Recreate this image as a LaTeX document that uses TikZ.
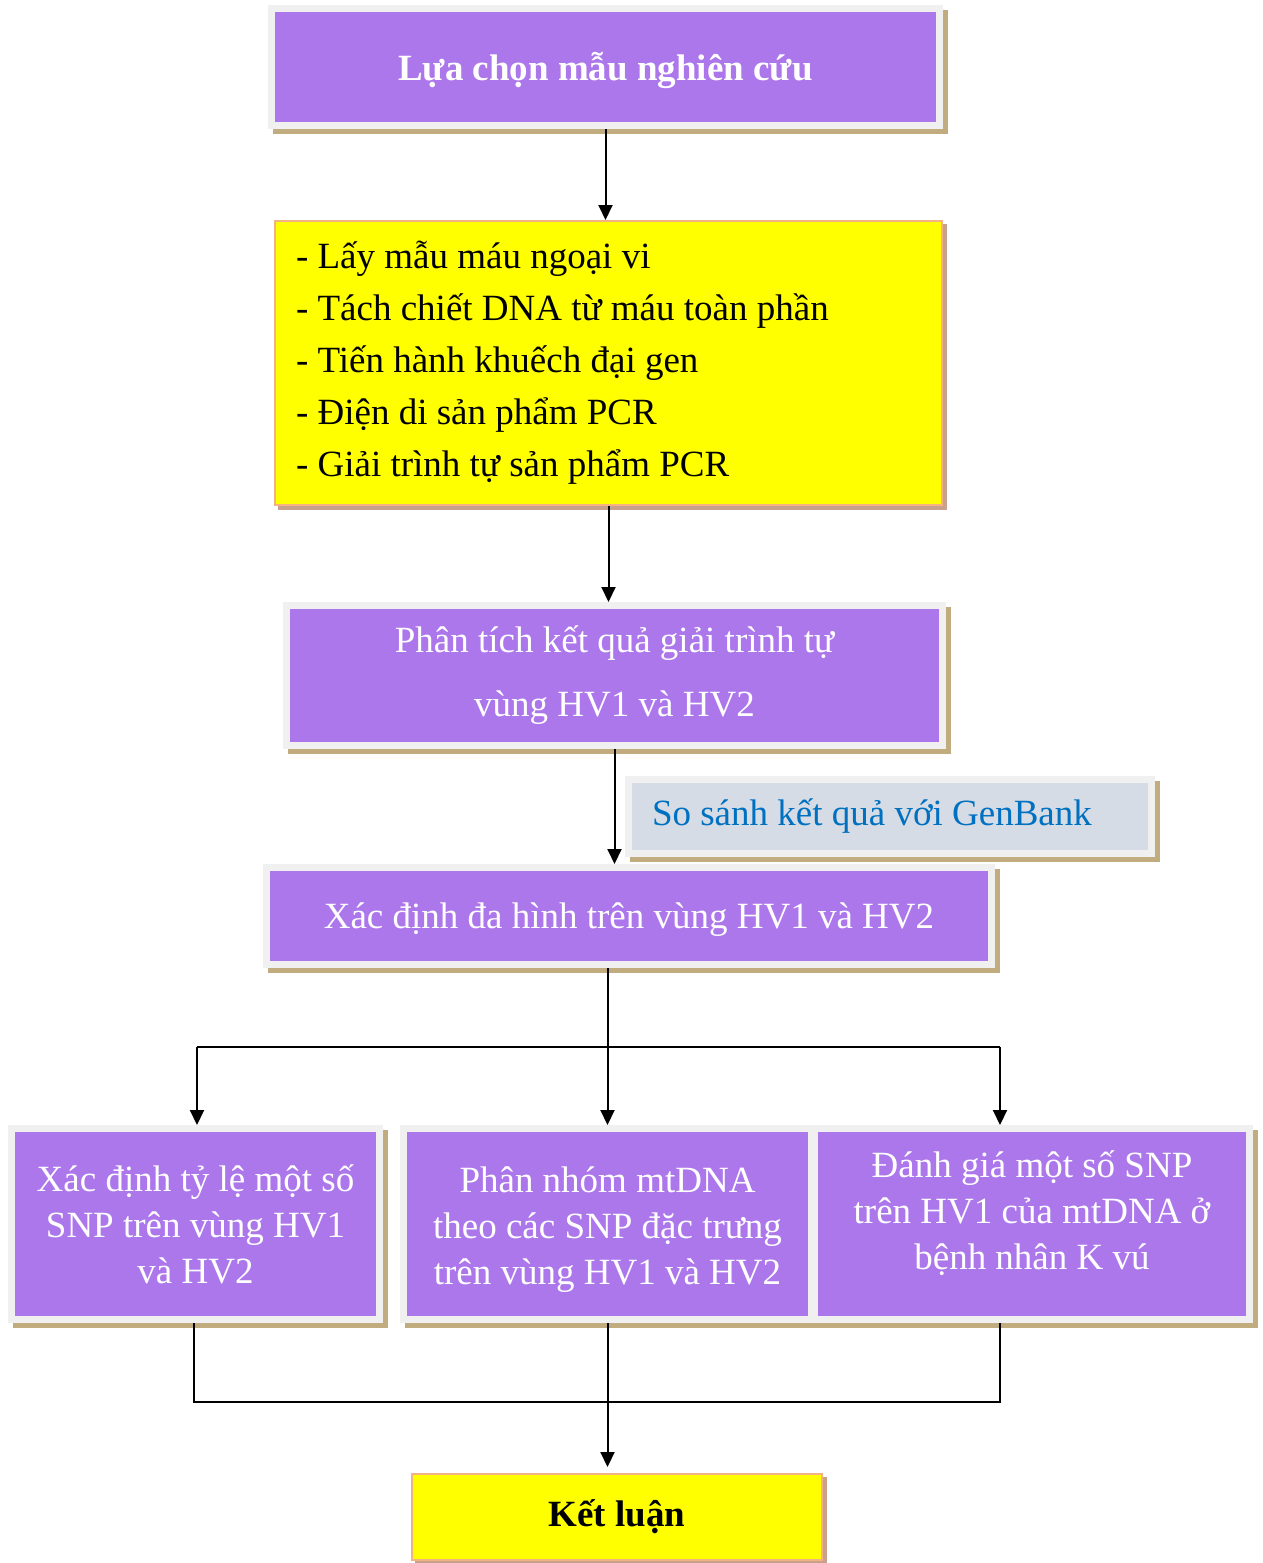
\documentclass[tikz,border=0pt]{standalone}
\usepackage{fontspec}
\setmainfont{Liberation Serif}
\usetikzlibrary{arrows.meta,shadows}
\definecolor{tim}{HTML}{AD77EC}
\definecolor{khung}{HTML}{F0F0F0}
\definecolor{bong}{HTML}{C0AC7E}
\definecolor{vang}{HTML}{FFFF00}
\definecolor{vien}{HTML}{F4B183}
\definecolor{bongvang}{HTML}{C9A08C}
\definecolor{xam}{HTML}{D6DCE5}
\definecolor{xanh}{HTML}{0070C0}
\begin{document}
\begin{tikzpicture}[x=1pt,y=-1pt,
  hop/.style={rectangle, fill=tim, draw=khung, line width=7pt, text=white, inner sep=0pt, align=flush center,
    font=\fontsize{37}{46}\selectfont,
    drop shadow={shadow xshift=5pt, shadow yshift=-5pt, fill=bong, draw=bong, line width=7pt, opacity=1}},
  buoc/.style={rectangle, fill=vang, draw=vien, line width=2pt, text=black, inner sep=0pt,
    drop shadow={shadow xshift=4pt, shadow yshift=-4pt, fill=bongvang, draw=bongvang, line width=2pt, opacity=1}},
  noi/.style={line width=2pt},
  mui/.style={line width=2pt, -{Triangle[length=15pt,width=14pt]}}]
\useasboundingbox (0,0) rectangle (1263,1563);
\node [hop, font=\bfseries\fontsize{37}{44}\selectfont, minimum width=668pt, minimum height=117pt, text width=640pt] (luachon) at (605.5,67) {Lựa chọn mẫu nghiên cứu\par\vspace{-6pt}};
\node [buoc, minimum width=667pt, minimum height=284pt, text width=625pt, inner xsep=21pt, align=flush left, font=\fontsize{37}{52}\selectfont] (quytrinh) at (608.5,363) {- Lấy mẫu máu ngoại vi\\ - Tách chiết DNA từ máu toàn phần\\ - Tiến hành khuếch đại gen\\ - Điện di sản phẩm PCR\\ - Giải trình tự sản phẩm PCR};
\node [hop, minimum width=656pt, minimum height=140pt, font=\fontsize{37}{64}\selectfont] (phantich) at (614.5,675.5) {Phân tích kết quả giải trình tự\\ vùng HV1 và HV2};
\node [hop, fill=xam, text=xanh, align=flush left, minimum width=523pt, minimum height=74pt, text width=476pt, inner xsep=23.5pt] (sosanh) at (890,816.5) {So sánh kết quả với GenBank};
\node [hop, minimum width=725pt, minimum height=97pt, text width=700pt] (xacdinh) at (629,916) {Xác định đa hình trên vùng HV1 và HV2\par\vspace{-10pt}};
\node [hop, minimum width=368pt, minimum height=191pt] (xacdinhty) at (195.5,1224) {Xác định tỷ lệ một số\\ SNP trên vùng HV1\\ và HV2};
\node [hop, minimum width=408pt, minimum height=191pt, text width=400pt] (phannhom) at (607.5,1224) {Phân nhóm mtDNA\\ theo các SNP đặc trưng\\ trên vùng HV1 và HV2\par\vspace{-12pt}};
\node [hop, minimum width=435pt, minimum height=191pt, text width=420pt] (danhgia) at (1032,1224) {Đánh giá một số SNP\\ trên HV1 của mtDNA ở\\ bệnh nhân K vú\par\vspace{22pt}};
\node [buoc, minimum width=410pt, minimum height=86pt, font=\bfseries\fontsize{37}{46}\selectfont] (ketluan) at (617,1517) {Kết luận};
% mui ten
\draw [mui] (luachon.south) -- (luachon.south |- quytrinh.north);
\draw [mui] (quytrinh.south) -- (quytrinh.south |- phantich.north);
\draw [mui] (phantich.south) -- (phantich.south |- xacdinh.north);
\draw [mui] (xacdinh.south -| phannhom.north) -- (phannhom.north);
\coordinate (reT) at (197,1047);
\coordinate (reP) at (1000,1047);
\draw [noi] (reT) -- (reP);
\draw [mui] (reT) -- (reT |- xacdinhty.north);
\draw [mui] (reP) -- (reP |- danhgia.north);
\coordinate (gopT) at (194,1402);
\coordinate (gopP) at (1000,1402);
\draw [noi] (xacdinhty.south -| gopT) -- (gopT) -- (gopP) -- (danhgia.south -| gopP);
\draw [mui, shorten >=6pt] (phannhom.south) -- (phannhom.south |- ketluan.north);
\end{tikzpicture}
\end{document}
